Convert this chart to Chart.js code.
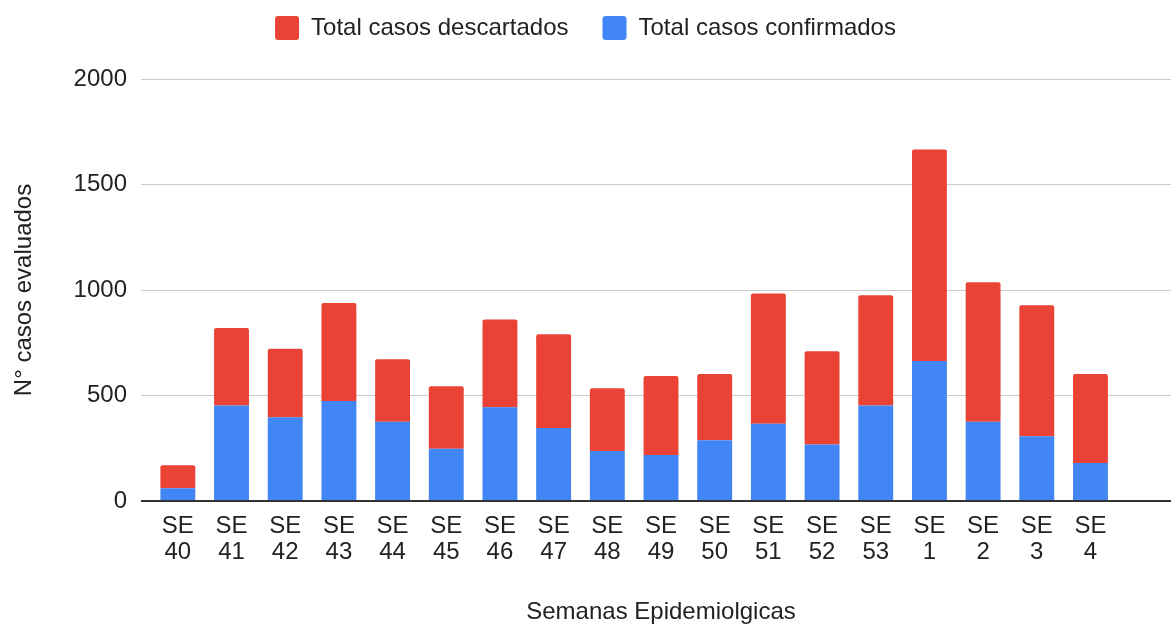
<!DOCTYPE html>
<html>
<head>
<meta charset="utf-8">
<script src="https://cdn.jsdelivr.net/npm/chart.js@4.4.1/dist/chart.umd.min.js"></script>
<style>
  html, body { margin: 0; padding: 0; background: #fff; overflow: hidden; }
  #wrap { width: 1171px; height: 627px; }
</style>
</head>
<body>
<div id="wrap"><canvas id="myChart"></canvas></div>
<script>
const weeks = ['SE 40', 'SE 41', 'SE 42', 'SE 43', 'SE 44', 'SE 45', 'SE 46', 'SE 47', 'SE 48',
  'SE 49', 'SE 50', 'SE 51', 'SE 52', 'SE 53', 'SE 1', 'SE 2', 'SE 3', 'SE 4'];
const confirmados = [60, 453, 397, 474, 376, 248, 444, 346, 237, 218, 288, 366, 268, 453, 663, 376, 307, 180];
const descartados = [109, 367, 325, 464, 296, 296, 416, 444, 297, 374, 314, 618, 442, 522, 1003, 661, 621, 422];
const yTicks = [0, 500, 1000, 1500, 2000];

Chart.defaults.font.family = "'Liberation Sans', Arial, sans-serif";
Chart.defaults.color = '#222';

// one empty slot at the right, like the original
const labels = weeks.map(w => w.split(' ')).concat(['']);

// legend needs more room below it than its padding gives
const legendSpace = {
  id: 'legendSpace',
  beforeInit(chart) {
    const fit = chart.legend.fit;
    chart.legend.fit = function () {
      fit.call(this);
      this.height = 97;
    };
  }
};

const ctx = document.getElementById('myChart');

new Chart(ctx, {
  type: 'bar',
  data: {
    labels: labels,
    datasets: [{
      label: 'Total casos confirmados',
      data: confirmados,
      backgroundColor: '#4285f4',
      borderRadius: 0
    }, {
      label: 'Total casos descartados',
      data: descartados,
      backgroundColor: '#ea4335',
      borderRadius: { topLeft: 2, topRight: 2, bottomLeft: 0, bottomRight: 0 },
      borderSkipped: false
    }]
  },
  plugins: [legendSpace],
  options: {
    responsive: true,
    maintainAspectRatio: false,
    animation: false,
    layout: { padding: { top: -18, left: 0, right: 0, bottom: 0 } },
    datasets: {
      bar: { categoryPercentage: 0.65, barPercentage: 1 }
    },
    plugins: {
      legend: {
        reverse: true,
        labels: {
          boxWidth: 24,
          boxHeight: 24,
          padding: 34,
          color: '#222',
          font: { size: 24 },
          useBorderRadius: true,
          borderRadius: 3
        }
      },
      tooltip: { enabled: false }
    },
    scales: {
      x: {
        stacked: true,
        grid: { display: false },
        border: { display: false },
        ticks: { font: { size: 24, lineHeight: 1.06 }, padding: 5, maxRotation: 0, autoSkip: false },
        title: {
          display: true,
          text: 'Semanas Epidemiolgicas',
          font: { size: 24 },
          padding: { top: 0, bottom: 0 }
        },
        afterFit: function (scale) { scale.height = 126; }
      },
      y: {
        stacked: true,
        min: 0,
        max: 2000,
        afterBuildTicks: function (scale) {
          scale.ticks = yTicks.map(v => ({ value: v }));
        },
        grid: {
          color: c => (c.tick && c.tick.value === 0) ? '#333' : '#ccc',
          lineWidth: c => (c.tick && c.tick.value === 0) ? 2 : 1,
          tickLength: 10,
          drawTicks: true
        },
        border: { display: false },
        ticks: {
          font: { size: 24 },
          padding: 14,
          callback: v => String(v)
        },
        title: {
          display: true,
          text: 'N° casos evaluados',
          font: { size: 24 },
          padding: { top: 10, bottom: 0 }
        },
        afterFit: function (scale) { scale.width = 151; }
      }
    }
  }
});
</script>
</body>
</html>
